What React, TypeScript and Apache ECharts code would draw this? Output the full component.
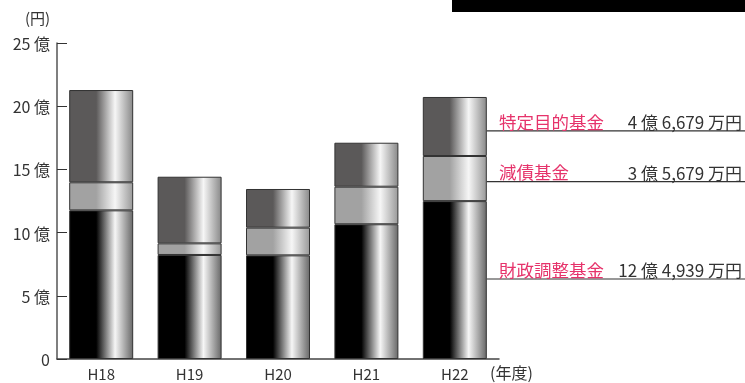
import React, { useEffect, useRef } from "react";
import * as echarts from "echarts";

const categories = ["H18", "H19", "H20", "H21", "H22"];
const zaiseiChosei = [11.76, 8.23, 8.2, 10.66, 12.49];
const gensai = [2.22, 0.92, 2.19, 2.97, 3.57];
const tokuteiMokuteki = [7.3, 5.27, 3.06, 3.48, 4.67];

const yTicks = [0, 5, 10, 15, 20, 25];

const legendNames = ["特定目的基金", "減債基金", "財政調整基金"];
const legendAmounts = ["4 億 6,679 万円", "3 億 5,679 万円", "12 億 4,939 万円"];
const legendLineValues = [18.04, 14.03, 6.33];

const FONT = '"Noto Sans CJK JP", "Noto Sans", sans-serif';

function grad(base: string, edge: string) {
  return new echarts.graphic.LinearGradient(0, 0, 1, 0, [
    { offset: 0, color: base },
    { offset: 0.42, color: base },
    { offset: 0.72, color: "#f6f6f6" },
    { offset: 1, color: edge },
  ]);
}

export default function App() {
  const ref = useRef<HTMLDivElement>(null);
  useEffect(() => {
    if (!ref.current) return;
    const chart = echarts.init(ref.current, null, { renderer: "svg" });
    const barCommon = {
      type: "bar" as const,
      stack: "total",
      barWidth: 64,
      itemStyle: { borderColor: "#333", borderWidth: 1 },
    };
    chart.setOption({
      animation: false,
      grid: { left: 57, right: 246, top: 43, bottom: 24, containLabel: false },
      xAxis: {
        type: "category",
        data: categories,
        axisLine: { lineStyle: { color: "#444", width: 1.5 } },
        axisTick: { inside: true, length: 7, lineStyle: { color: "#444" } },
        axisLabel: { color: "#333", fontSize: 15, lineHeight: 15, fontFamily: FONT, margin: 7 },
      },
      yAxis: {
        type: "value",
        min: yTicks[0],
        max: yTicks[yTicks.length - 1],
        interval: 5,
        splitLine: { show: false },
        axisLine: { show: true, lineStyle: { color: "#555", width: 1.5 } },
        axisTick: { show: true, inside: true, length: 10, lineStyle: { color: "#333" } },
        axisLabel: {
          color: "#333",
          fontSize: 16,
          fontFamily: FONT,
          margin: 7,
          formatter: (v: number) => (v === 0 ? "0" : `${v} 億`),
        },
      },
      series: [
        { ...barCommon, name: "財政調整基金", data: zaiseiChosei, itemStyle: { ...barCommon.itemStyle, color: grad("#000000", "#6a6a6a") } },
        { ...barCommon, name: "減債基金", data: gensai, itemStyle: { ...barCommon.itemStyle, color: grad("#a2a2a2", "#9a9a9a") } },
        { ...barCommon, name: "特定目的基金", data: tokuteiMokuteki, itemStyle: { ...barCommon.itemStyle, color: grad("#5b5959", "#8a8a8a") } },
      ],
    });

    const lastIdx = categories.length - 1;
    const barRight = (chart.convertToPixel({ xAxisIndex: 0 }, categories[lastIdx]) as number) + 32;
    const elements: any[] = [
      { type: "rect", shape: { x: 452, y: 0, width: 293, height: 12 }, style: { fill: "#000" } },
      { type: "text", x: 25, y: 17, style: { text: "(円)", fill: "#333", font: `15px ${FONT}`, verticalAlign: "middle" } },
      { type: "text", x: 490, y: 372, style: { text: "(年度)", fill: "#333", font: `16px ${FONT}`, verticalAlign: "middle" } },
    ];
    legendNames.forEach((name, i) => {
      const y = chart.convertToPixel({ yAxisIndex: 0 }, legendLineValues[i]) as number;
      elements.push({
        type: "line",
        shape: { x1: barRight, y1: y, x2: 745, y2: y },
        style: { stroke: "#333", lineWidth: 1.2 },
      });
      elements.push({
        type: "text",
        x: 499,
        y: y - 1,
        style: { text: name, fill: "#e6336b", font: `17.5px ${FONT}`, verticalAlign: "bottom" },
      });
      elements.push({
        type: "text",
        x: 742,
        y: y - 1,
        style: { text: legendAmounts[i], fill: "#333", font: `17px ${FONT}`, align: "right", verticalAlign: "bottom" },
      });
    });
    chart.setOption({ graphic: { elements } });
    return () => chart.dispose();
  }, []);
  return <div ref={ref} style={{ position: "fixed", left: 0, top: 0, width: 745, height: 383 }} />;
}
